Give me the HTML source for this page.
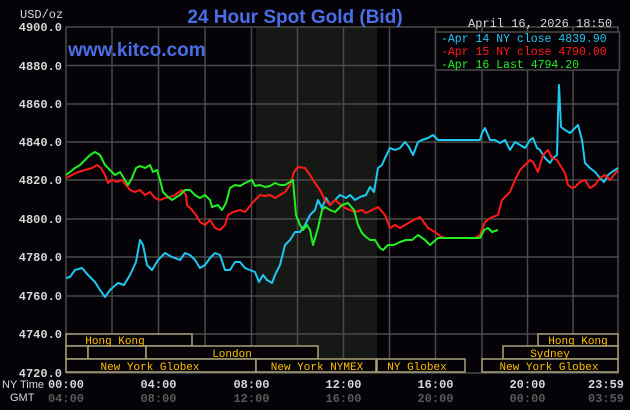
<!DOCTYPE html>
<html><head><meta charset="utf-8"><style>
html,body{margin:0;padding:0;background:#050307;}
svg{display:block}
</style></head><body>
<svg width="630" height="410" xmlns="http://www.w3.org/2000/svg">
<rect width="630" height="410" fill="#050307"/>
<rect x="256" y="27" width="121" height="346" fill="#161815"/>
<g stroke="#4a4a4a" stroke-width="1.5">
<line x1="66" y1="27" x2="619" y2="27"/>
<line x1="66" y1="65.5" x2="619" y2="65.5"/>
<line x1="66" y1="104" x2="619" y2="104"/>
<line x1="66" y1="142" x2="619" y2="142"/>
<line x1="66" y1="180" x2="619" y2="180"/>
<line x1="66" y1="219" x2="619" y2="219"/>
<line x1="66" y1="257" x2="619" y2="257"/>
<line x1="66" y1="296" x2="619" y2="296"/>
<line x1="66" y1="334" x2="619" y2="334"/>
<line x1="66" y1="373" x2="619" y2="373"/>
<line x1="66" y1="27" x2="66" y2="373"/>
<line x1="112" y1="27" x2="112" y2="373"/>
<line x1="158.5" y1="27" x2="158.5" y2="373"/>
<line x1="205" y1="27" x2="205" y2="373"/>
<line x1="251.5" y1="27" x2="251.5" y2="373"/>
<line x1="297.5" y1="27" x2="297.5" y2="373"/>
<line x1="343.5" y1="27" x2="343.5" y2="373"/>
<line x1="389.5" y1="27" x2="389.5" y2="373"/>
<line x1="435.5" y1="27" x2="435.5" y2="373"/>
<line x1="482" y1="27" x2="482" y2="373"/>
<line x1="527.5" y1="27" x2="527.5" y2="373"/>
<line x1="573" y1="27" x2="573" y2="373"/>
<line x1="618" y1="27" x2="618" y2="373"/>
</g>
<g font-family="Liberation Mono, monospace" font-weight="bold" font-size="12" fill="#d8d8d8" text-anchor="end">
<text x="62" y="31">4900.0</text><text x="62" y="70">4880.0</text><text x="62" y="108">4860.0</text>
<text x="62" y="146">4840.0</text><text x="62" y="184">4820.0</text><text x="62" y="223">4800.0</text>
<text x="62" y="261">4780.0</text><text x="62" y="300">4760.0</text><text x="62" y="338">4740.0</text>
<text x="62" y="377">4720.0</text>
</g>
<text x="20" y="18" font-family="Liberation Mono, monospace" font-size="12" fill="#d8d8d8">USD/oz</text>
<text x="295" y="23" font-family="Liberation Sans, sans-serif" font-weight="bold" font-size="19" fill="#4a6ee8" text-anchor="middle">24 Hour Spot Gold (Bid)</text>
<text x="468" y="27" font-family="Liberation Mono, monospace" font-size="12" fill="#d8d8d8">April 16, 2026 18:50</text>
<text x="68" y="56" font-family="Liberation Sans, sans-serif" font-weight="bold" font-size="19" fill="#4a6ee8">www.kitco.com</text>
<rect x="435.5" y="32" width="184" height="38" fill="#050307" stroke="#4a4a4a" stroke-width="1.5"/>
<g font-family="Liberation Mono, monospace" font-size="11.5">
<text x="441" y="42" fill="#1ec8f0">-Apr 14 NY close 4839.90</text>
<text x="441" y="55" fill="#ff1a1a">-Apr 15 NY close 4790.00</text>
<text x="441" y="68" fill="#22ee22">-Apr 16 Last 4794.20</text>
</g>
<g fill="none" stroke-width="2" stroke-linejoin="round">
<polyline stroke="#1ec8f0" points="66,278 70,277 75,270 82,268 88,275 95,282 100,290 105,297 110,290 118,283 124,285 130,275 136,262 140,240 143,245 147,265 152,270 158,260 165,253 172,257 180,260 185,253 190,255 195,260 200,268 205,265 210,258 215,253 220,255 225,270 230,270 235,262 240,262 245,268 250,270 255,272 259,282 263,275 267,280 272,283 275,275 280,265 285,245 290,240 295,232 300,232 305,225 310,215 315,210 318,200 322,208 326,198 330,205 335,200 340,195 346,198 350,195 355,200 360,197 366,195 370,187 374,192 378,168 382,165 385,158 390,148 395,150 400,148 405,142 409,147 413,155 418,142 422,140 428,138 433,135 438,140 445,140 480,140 482,133 485,128 490,140 495,140 500,143 505,140 510,150 515,142 520,145 525,148 530,140 533,138 537,148 540,150 545,158 550,163 553,158 557,155 558,115 559,85 561,127 565,130 570,133 575,128 578,125 582,140 585,163 590,168 595,172 600,178 604,182 608,175 612,172 618,168"/>
<polyline stroke="#ff1a1a" points="66,178 72,175 78,172 85,170 92,168 97,165 101,168 105,175 108,183 112,180 117,182 122,180 126,185 130,190 135,192 140,190 145,195 150,192 155,198 160,200 165,198 170,197 175,195 182,190 186,195 187,205 192,210 196,215 200,222 205,225 210,220 215,228 220,230 225,225 228,215 233,212 240,210 245,212 250,206 255,200 260,195 265,196 270,195 275,198 280,195 285,192 290,185 294,172 298,167 305,168 310,175 315,183 320,190 325,200 330,205 335,200 345,208 355,212 362,210 366,213 372,210 378,207 385,215 390,228 395,225 400,228 410,222 420,217 428,228 435,232 440,236 445,238 475,238 480,235 485,222 490,218 498,215 502,200 507,195 510,192 515,180 520,170 525,165 530,160 533,162 538,172 543,155 548,150 552,158 557,160 560,165 565,173 568,185 572,188 575,187 580,182 585,180 590,188 595,185 600,178 605,175 610,180 614,175 618,170"/>
<polyline stroke="#22ee22" points="66,175 70,172 75,168 80,165 85,160 90,155 95,152 100,155 105,165 110,170 115,175 120,172 125,180 128,185 132,178 136,168 140,166 145,168 150,165 153,172 157,170 160,180 163,192 168,197 172,200 175,198 180,195 185,190 190,190 195,195 200,198 205,195 210,200 212,207 218,205 222,210 226,203 230,188 235,185 240,186 245,183 252,180 255,186 260,185 265,187 270,186 275,183 280,185 285,185 290,182 293,180 296,215 300,225 303,230 307,225 310,230 313,245 318,228 322,210 325,207 330,210 335,212 342,205 348,203 354,210 358,225 362,233 366,237 370,240 375,240 380,248 383,250 388,245 394,245 400,242 406,240 412,240 418,235 425,240 430,245 438,238 480,238 484,230 488,228 492,232 498,230"/>
</g>
<g fill="#050307" stroke="#a8a27a" stroke-width="1.5">
<rect x="66" y="334" width="126" height="12"/>
<rect x="538" y="334" width="80" height="12"/>
<rect x="66" y="346" width="22" height="13"/>
<rect x="88" y="346" width="58" height="13"/>
<rect x="146" y="346" width="172" height="13"/>
<rect x="503" y="346" width="115" height="13"/>
<rect x="66" y="359" width="190" height="13"/>
<rect x="256" y="359" width="120" height="13"/>
<rect x="377" y="359" width="88" height="13"/>
<rect x="482" y="359" width="136" height="13"/>
</g>
<g font-family="Liberation Mono, monospace" font-size="11" fill="#ffc000" text-anchor="middle">
<text x="115" y="344">Hong Kong</text>
<text x="578" y="344">Hong Kong</text>
<text x="232" y="357">London</text>
<text x="550" y="357">Sydney</text>
<text x="150" y="370">New York Globex</text>
<text x="317" y="370">New York NYMEX</text>
<text x="417" y="370">NY Globex</text>
<text x="549" y="370">New York Globex</text>
</g>
<g font-family="Liberation Sans, sans-serif" font-size="11" fill="#d8d8d8">
<text x="2" y="388">NY Time</text>
<text x="10" y="401">GMT</text>
</g>
<g font-family="Liberation Mono, monospace" font-weight="bold" font-size="12" text-anchor="middle">
<g fill="#d8d8d8">
<text x="66" y="388">00:00</text><text x="158.5" y="388">04:00</text><text x="251.5" y="388">08:00</text>
<text x="343.5" y="388">12:00</text><text x="435.5" y="388">16:00</text><text x="527.5" y="388">20:00</text><text x="606" y="388">23:59</text>
</g>
<g fill="#5a5a5a">
<text x="66" y="402">04:00</text><text x="158.5" y="402">08:00</text><text x="251.5" y="402">12:00</text>
<text x="343.5" y="402">16:00</text><text x="435.5" y="402">20:00</text><text x="527.5" y="402">00:00</text><text x="606" y="402">03:59</text>
</g>
</g>
</svg>
</body></html>
